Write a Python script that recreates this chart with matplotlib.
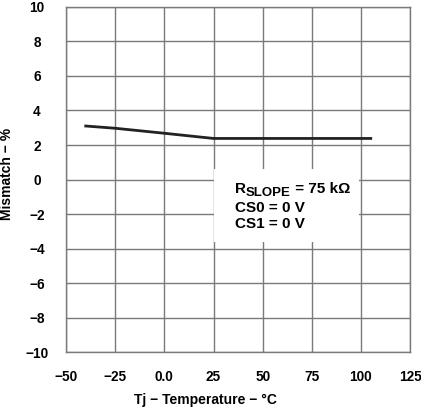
import matplotlib
matplotlib.use("Agg")
import matplotlib.pyplot as plt
from matplotlib.patches import Rectangle

# data
temp_c = [-40, -25, 0, 25, 50, 75, 105]
mismatch_pct = [3.1, 2.97, 2.68, 2.38, 2.38, 2.38, 2.38]

x_ticks = [-50, -25, 0, 25, 50, 75, 100, 125]
x_tick_labels = ['\u221250', '\u221225', '0.0', '25', '50', '75', '100', '125']
y_ticks = [-10, -8, -6, -4, -2, 0, 2, 4, 6, 8, 10]
y_tick_labels = [('\u2212' + str(-v)) if v < 0 else str(v) for v in y_ticks]

plt.rcParams['font.family'] = ['Liberation Sans', 'DejaVu Sans']
plt.rcParams['font.weight'] = 'bold'

fig = plt.figure(figsize=(4.21, 4.08), dpi=100)
ax = fig.add_axes([0.157, 0.137, 0.817, 0.846])

ax.plot(temp_c, mismatch_pct, color='#222222', linewidth=2.0, zorder=3)

ax.set_xlim(-50, 125)
ax.set_ylim(-10, 10)
ax.set_xticks(x_ticks)
ax.set_xticklabels(x_tick_labels)
ax.set_yticks(y_ticks)
ax.set_yticklabels(y_tick_labels)
ax.tick_params(axis='x', length=0, pad=13, labelsize=9.8)
ax.tick_params(axis='y', length=0, pad=21, labelsize=9.8)
for lbl in ax.get_xticklabels() + ax.get_yticklabels():
    lbl.set_fontweight('bold')
for lbl in ax.get_yticklabels():
    lbl.set_horizontalalignment('center')

ax.grid(True, color='#7a7a7a', linewidth=1.0)
for s in ax.spines.values():
    s.set_color('#7a7a7a')
    s.set_linewidth(1.0)

fig.text(205.5 / 421, 1 - 400 / 408, 'Tj \u2212 Temperature \u2212 \u00b0C',
         fontsize=10, fontweight='bold', ha='center', va='center')
fig.text(7 / 421, 1 - 174 / 408, 'Mismatch \u2212 %', rotation=90,
         fontsize=10, fontweight='bold', ha='center', va='center')

# white note box covering the grid
ax.add_patch(Rectangle((25, -3.61), 74.2, 4.22, facecolor='white',
                       edgecolor='none', zorder=2.5))

# R_SLOPE built from pieces so the subscript keeps a readable size
t_r = ax.text(36, -0.77, 'R', fontsize=11, fontweight='bold',
              ha='left', va='baseline', zorder=4)
t_s = ax.annotate('SLOPE', xy=(1, 0), xycoords=t_r, xytext=(0, -2.2),
                  textcoords='offset points', fontsize=9.5, fontweight='bold',
                  ha='left', va='bottom', zorder=4)
ax.annotate(' = 75 k\u03a9', xy=(1, 0), xycoords=t_s, xytext=(0, 2.2),
            textcoords='offset points', fontsize=11, fontweight='bold',
            ha='left', va='bottom', zorder=4)
ax.text(36, -1.87, 'CS0 = 0 V', fontsize=11, fontweight='bold',
        ha='left', va='baseline', zorder=4)
ax.text(36, -2.82, 'CS1 = 0 V', fontsize=11, fontweight='bold',
        ha='left', va='baseline', zorder=4)

fig.savefig('out.png', dpi=100)
